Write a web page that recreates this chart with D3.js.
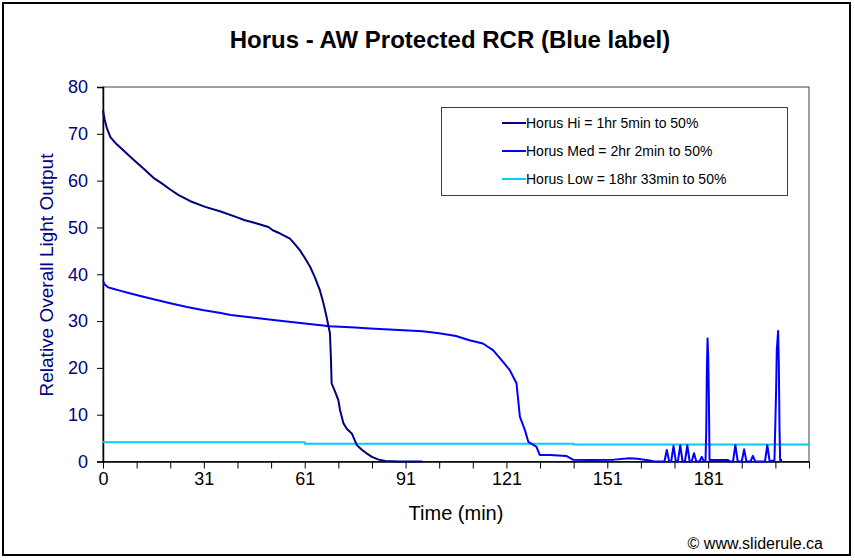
<!DOCTYPE html>
<html><head><meta charset="utf-8">
<script src="https://cdn.jsdelivr.net/npm/d3@7"></script>
<style>html,body{margin:0;padding:0;background:#fff;}svg{display:block;font-family:Arial,"Liberation Sans",sans-serif;}</style>
</head><body><svg id="c" width="855" height="560"></svg>
<script>
const hiTime = [0,0.5,1.2,2.2,4,6.6,9,12.6,15,17.5,20,22.5,26,30.4,35,39.3,42,45,49.2,50.5,52.7,55.6,57,58.6,60.1,61.6,63,64.5,65.5,66.5,67.5,67.8,68,69,70,70.5,71.5,72.5,74,75.5,77,78.4,80,82,84,88,95];
const hiValues = [75,73,71.1,69.3,67.8,66.1,64.5,62.2,60.6,59.4,58.1,56.9,55.6,54.4,53.4,52.3,51.6,51.0,50.1,49.4,48.7,47.6,46.5,45.1,43.4,41.6,39.4,36.6,34,30.9,27.4,22,16.7,15,13.1,11,8.2,7,6.0,3.5,2.5,1.75,1.0,0.4,0.1,0,0];
const medTime = [0,0.5,1.5,3,5,8.2,12,16,20,25,30,35,38,45,52,60,67.5,75,79.4,88,95,100,105,109,113,116,119,121,123,123.5,124,125.5,126.5,128.9,129.9,133,137.8,139.8,145,152,156.6,159,162.6,164,167,167.7,168.4,169,169.7,170.4,171,171.7,172.4,173.1,173.8,174.5,175.1,175.8,176.5,177.4,178.1,178.7,179.23,179.43,179.63,179.83,180.03,180.22,180.42,186,186.4,187.4,188.1,188.8,190,190.7,191.4,192.6,193.3,194,196.9,197.6,198.3,199.73,200.22,200.42,200.82,201.02,201.22,201.41,202];
const medValues = [38.5,37.8,37.2,36.9,36.5,35.9,35.2,34.5,33.8,33.0,32.3,31.7,31.3,30.7,30.1,29.5,28.9,28.6,28.4,28.1,27.8,27.4,26.8,25.9,25.2,23.8,21.3,19.5,16.7,13.1,9.6,6.7,4.2,3.2,1.4,1.4,1.2,0.4,0.3,0.4,0.7,0.6,0.2,0,0,2.45,0,0,3.3,0,0,3.45,0,0,3.45,0,0,1.75,0,0,1.0,0,0.3,6.4,19.9,26.3,22.0,13.5,0.3,0.3,0,0,3.5,0,0,2.6,0,0,1.2,0,0,3.5,0,0.3,15.3,23.8,27.9,21.0,7.4,0.3,0.3];
const lowTime = [0,0.8,60,60.01,140,140.01,210];
const lowValues = [4.2,4.1,4.1,3.8,3.8,3.65,3.65];
const seriesNames = ["Horus Hi = 1hr 5min to 50%","Horus Med = 2hr 2min to 50%","Horus Low = 18hr 33min to 50%"];
const seriesColors = ["#000080","#0000FF","#00CCFF"];
const yTicks = [0,10,20,30,40,50,60,70,80];
const xTickPos = [0,30,60,90,120,150,180];
const xTickLabels = ["0","31","61","91","121","151","181"];
const xMinorTicks = d3.range(0,211,10);

const svg = d3.select("#c");
const L=103,R=809,T=87,B=461.5;
const x = d3.scaleLinear().domain([0,210]).range([L,R]);
const y = d3.scaleLinear().domain([0,80]).range([B,T]);
const FF = "Arial, 'Liberation Sans', sans-serif";

// outer frame
svg.append("rect").attr("x",3).attr("y",3).attr("width",847).attr("height",552)
  .attr("fill","#fff").attr("stroke","#000").attr("stroke-width",2);

// title
svg.append("text").attr("x",450).attr("y",48).attr("text-anchor","middle")
  .attr("font-size",24).attr("font-weight","bold").attr("fill","#000")
  .text("Horus - AW Protected RCR (Blue label)");

// plot border
svg.append("rect").attr("x",L).attr("y",T).attr("width",R-L).attr("height",B-T)
  .attr("fill","none").attr("stroke","#404040").attr("stroke-width",1);

// y axis
const yAxis = d3.axisLeft(y).tickValues(yTicks).tickSize(6).tickPadding(9).tickFormat(d3.format("d"));
const gy = svg.append("g").attr("transform",`translate(${L},0)`).call(yAxis);
gy.select(".domain").attr("stroke","#000").attr("stroke-width",1.5);
gy.selectAll(".tick line").attr("stroke","#000");
gy.selectAll(".tick text").attr("font-size",18).attr("fill","#000080").attr("font-family",FF);

// x axis minor ticks
const gxm = svg.append("g").attr("transform",`translate(0,${B})`)
  .call(d3.axisBottom(x).tickValues(xMinorTicks).tickSize(7).tickFormat(""));
gxm.select(".domain").remove();
gxm.selectAll(".tick line").attr("stroke","#000");
const gx = svg.append("g").attr("transform",`translate(0,${B})`)
  .call(d3.axisBottom(x).tickValues(xTickPos).tickSize(0).tickPadding(11).tickFormat((d,i)=>xTickLabels[i]));
gx.select(".domain").attr("stroke","#000").attr("stroke-width",1.5);
gx.selectAll(".tick text").attr("font-size",18).attr("fill","#000").attr("font-family",FF);

// axis titles
svg.append("text").attr("x",456).attr("y",520).attr("text-anchor","middle")
  .attr("font-size",20).attr("fill","#000").text("Time (min)");
svg.append("text").attr("transform","translate(53,275) rotate(-90)").attr("text-anchor","middle")
  .attr("font-size",19).attr("fill","#000080").text("Relative Overall Light Output");

// lines
const line = d3.line().x(d=>x(d[0])).y(d=>y(d[1]));
const data = [
  d3.zip(hiTime,hiValues),
  d3.zip(medTime,medValues),
  d3.zip(lowTime,lowValues)
];
[2,1,0].forEach(i=>{
  svg.append("path").datum(data[i]).attr("d",line).attr("fill","none")
    .attr("stroke",seriesColors[i]).attr("stroke-width",2).attr("stroke-linejoin","round");
});

// legend
const lg = svg.append("g");
lg.append("rect").attr("x",441.5).attr("y",107.5).attr("width",346).attr("height",88)
  .attr("fill","#fff").attr("stroke","#404040").attr("stroke-width",1);
seriesNames.forEach((n,i)=>{
  const yy = 123 + i*28;
  lg.append("line").attr("x1",502).attr("x2",526).attr("y1",yy).attr("y2",yy)
    .attr("stroke",seriesColors[i]).attr("stroke-width",2);
  lg.append("text").attr("x",526).attr("y",yy+5).attr("font-size",14).attr("fill","#000").text(n);
});

// credit
svg.append("text").attr("x",823).attr("y",549).attr("text-anchor","end")
  .attr("font-size",16).attr("fill","#000").text("\u00A9 www.sliderule.ca");
</script></body></html>
